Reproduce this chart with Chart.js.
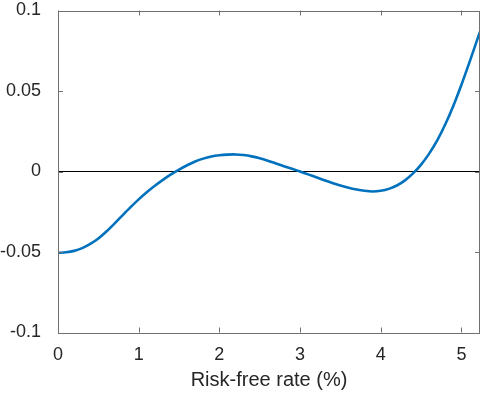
<!DOCTYPE html>
<html>
<head>
<meta charset="utf-8">
<script src="https://cdn.jsdelivr.net/npm/chart.js@4/dist/chart.umd.min.js"></script>
<style>
  html, body { margin: 0; padding: 0; background: #fff; }
  #wrap { width: 481px; height: 395px; }
</style>
</head>
<body>
<div id="wrap"><canvas id="grafico"></canvas></div>
<script>
// valores (passo de 0,1)
const taxas = [0, 0.1, 0.2, 0.3, 0.4, 0.5, 0.6, 0.7, 0.8, 0.9, 1.0, 1.1, 1.2, 1.3, 1.4, 1.5,
  1.6, 1.7, 1.8, 1.9, 2.0, 2.1, 2.2, 2.3, 2.4, 2.5, 2.6, 2.7, 2.8, 2.9, 3.0, 3.1, 3.2, 3.3,
  3.4, 3.5, 3.6, 3.7, 3.8, 3.9, 4.0, 4.1, 4.2, 4.3, 4.4, 4.5, 4.6, 4.7, 4.8, 4.9, 5.0, 5.1,
  5.2, 5.23];
const valores = [-0.0505, -0.0502, -0.0493, -0.0476, -0.0450, -0.0416, -0.0373, -0.0324,
  -0.0272, -0.0221, -0.0173, -0.0129, -0.0089, -0.0052, -0.0018, 0.0012, 0.0039, 0.0062,
  0.0080, 0.0093, 0.0101, 0.0105, 0.0106, 0.0102, 0.0094, 0.0082, 0.0067, 0.0050, 0.0033,
  0.0017, 0.0, -0.0018, -0.0036, -0.0054, -0.0071, -0.0087, -0.0101, -0.0112, -0.0120,
  -0.0124, -0.0120, -0.0108, -0.0087, -0.0055, -0.0012, 0.0043, 0.0111, 0.0193, 0.0293,
  0.0409, 0.0539, 0.0679, 0.0825, 0.0869];
const linhaZeroX = [0, 5.23];
const linhaZeroY = [0, 0];
const xTicks = [0, 1, 2, 3, 4, 5];
const yTicks = [-0.1, -0.05, 0, 0.05, 0.1];
const yTickLabels = ['-0.1', '-0.05', '0', '0.05', '0.1'];

const corEixo = '#707070';
const corTexto = '#262626';

// caixa e marcas para dentro (estilo MATLAB)
const caixaPlugin = {
  id: 'caixa',
  afterDatasetsDraw(chart) {
    const { ctx, chartArea: a, scales } = chart;
    const L = 5;
    ctx.save();
    ctx.strokeStyle = corEixo;
    ctx.lineWidth = 1;
    ctx.beginPath();
    ctx.rect(Math.round(a.left) + 0.5, Math.round(a.top) + 0.5,
      Math.round(a.right - a.left) - 1, Math.round(a.bottom - a.top));
    xTicks.forEach(v => {
      const px = Math.round(scales.x.getPixelForValue(v)) + 0.5;
      ctx.moveTo(px, a.bottom); ctx.lineTo(px, a.bottom - L);
      ctx.moveTo(px, a.top); ctx.lineTo(px, a.top + L);
    });
    yTicks.forEach(v => {
      const py = Math.round(scales.y.getPixelForValue(v)) + 0.5;
      ctx.moveTo(a.left, py); ctx.lineTo(a.left + L, py);
      ctx.moveTo(a.right, py); ctx.lineTo(a.right - L, py);
    });
    ctx.stroke();
    ctx.restore();
  }
};

new Chart(document.getElementById('grafico'), {
  type: 'scatter',
  data: {
    datasets: [
      {
        data: linhaZeroX.map((x, i) => ({ x: x, y: linhaZeroY[i] })),
        showLine: true,
        borderColor: '#000000',
        borderWidth: 1,
        pointRadius: 0,
        order: 2
      },
      {
        data: taxas.map((x, i) => ({ x: x, y: valores[i] })),
        showLine: true,
        borderColor: '#0072BD',
        borderWidth: 2.6,
        pointRadius: 0,
        tension: 0.3,
        order: 1
      }
    ]
  },
  options: {
    responsive: true,
    maintainAspectRatio: false,
    animation: false,
    layout: { padding: { top: 10.5, right: 1, left: 0, bottom: 0 } },
    plugins: {
      legend: { display: false },
      tooltip: { enabled: false }
    },
    scales: {
      x: {
        type: 'linear',
        min: 0,
        max: 5.23,
        grid: { display: false },
        border: { display: false },
        afterBuildTicks: s => { s.ticks = xTicks.map(v => ({ value: v })); },
        afterFit: s => { s.height = 62.5; s.paddingLeft = 0; s.paddingRight = 0; },
        ticks: {
          color: corTexto,
          padding: 4,
          maxRotation: 0,
          font: { family: 'Liberation Sans, Arial, sans-serif', size: 18 },
          callback: v => String(v)
        },
        title: {
          display: true,
          text: 'Risk-free rate (%)',
          color: corTexto,
          padding: { top: 0, bottom: 3 },
          font: { family: 'Liberation Sans, Arial, sans-serif', size: 20 }
        }
      },
      y: {
        min: -0.1,
        max: 0.1,
        grid: { display: false },
        border: { display: false },
        afterBuildTicks: s => { s.ticks = yTicks.map(v => ({ value: v })); },
        afterFit: s => { s.width = 58; s.paddingTop = 0; s.paddingBottom = 0; },
        ticks: {
          color: corTexto,
          padding: 9,
          font: { family: 'Liberation Sans, Arial, sans-serif', size: 18 },
          callback: (v, i) => yTickLabels[i]
        }
      }
    }
  },
  plugins: [caixaPlugin]
});
</script>
</body>
</html>
